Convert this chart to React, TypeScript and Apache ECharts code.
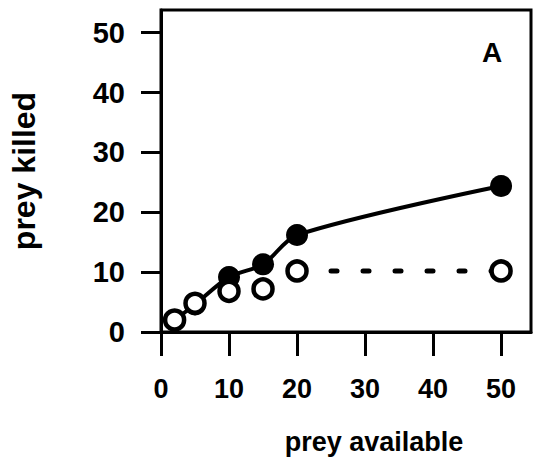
import React, { useEffect, useRef } from "react";
import * as echarts from "echarts";

const preyAvailable = [2, 5, 10, 15, 20, 50];
const killedFilled = [2, 4.6, 9.2, 11.3, 16.2, 24.4];
const killedOpen = [2, 4.8, 6.8, 7.2, 10.2, 10.2];
const xTicks = [0, 10, 20, 30, 40, 50];
const yTicks = [0, 10, 20, 30, 40, 50];
const panelLabel = "A";
const xTitle = "prey available";
const yTitle = "prey killed";

const FONT = "'Liberation Sans', Arial, Helvetica, sans-serif";

export default function App() {
  const ref = useRef<HTMLDivElement>(null);
  useEffect(() => {
    if (!ref.current) return;
    const chart = echarts.init(ref.current, null, { renderer: "svg" });
    const filled = preyAvailable.map((x, i) => [x, killedFilled[i]]);
    const open = preyAvailable.map((x, i) => [x, killedOpen[i]]);
    const dotted = open.slice(4);
    chart.setOption({
      animation: false,
      backgroundColor: "#ffffff",
      grid: {
        left: 160,
        right: 3,
        top: 10,
        bottom: 141,
        show: true,
        borderColor: "#000",
        borderWidth: 3,
        backgroundColor: "transparent",
      },
      xAxis: {
        type: "value",
        min: 0,
        max: 54.4,
        splitLine: { show: false },
        axisLine: { show: true, lineStyle: { color: "#000", width: 3 } },
        axisTick: {
          show: true,
          length: 24,
          customValues: xTicks,
          lineStyle: { color: "#000", width: 3 },
        },
        axisLabel: {
          customValues: xTicks,
          margin: 43,
          color: "#000",
          fontFamily: FONT,
          fontWeight: "bold",
          fontSize: 27,
        },
        name: xTitle,
        nameLocation: "middle",
        nameGap: 96,
        nameTextStyle: {
          color: "#000",
          fontFamily: FONT,
          fontWeight: "bold",
          fontSize: 27,
          padding: [0, 0, 0, 56],
        },
      },
      yAxis: {
        type: "value",
        min: 0,
        max: 53.8,
        splitLine: { show: false },
        axisLine: { show: true, lineStyle: { color: "#000", width: 3 } },
        axisTick: {
          show: true,
          length: 20,
          customValues: yTicks,
          lineStyle: { color: "#000", width: 3 },
        },
        axisLabel: {
          customValues: yTicks,
          margin: 36,
          color: "#000",
          fontFamily: FONT,
          fontWeight: "bold",
          fontSize: 29,
        },
        name: yTitle,
        nameLocation: "middle",
        nameGap: 121,
        nameTextStyle: {
          color: "#000",
          fontFamily: FONT,
          fontWeight: "bold",
          fontSize: 32,
        },
      },
      graphic: [
        {
          type: "text",
          left: 482,
          top: 38,
          style: {
            text: panelLabel,
            fill: "#000",
            font: `bold 28px ${FONT}`,
          },
        },
      ],
      series: [
        {
          type: "line",
          data: filled,
          smooth: 0.3,
          symbol: "circle",
          symbolSize: 22,
          itemStyle: { color: "#000", opacity: 1 },
          lineStyle: { color: "#000", width: 4 },
          z: 2,
        },
        {
          type: "line",
          data: dotted,
          symbol: "none",
          lineStyle: { color: "#000", width: 5, type: [6, 26], dashOffset: -2, cap: "round" },
          z: 3,
        },
        {
          type: "scatter",
          data: open,
          symbol: "circle",
          symbolSize: 19,
          itemStyle: { color: "#fff", borderColor: "#000", borderWidth: 4.5, opacity: 1 },
          z: 4,
        },
      ],
    });
    return () => chart.dispose();
  }, []);
  return <div ref={ref} style={{ width: 534, height: 473, position: "absolute", left: 0, top: 0 }} />;
}
